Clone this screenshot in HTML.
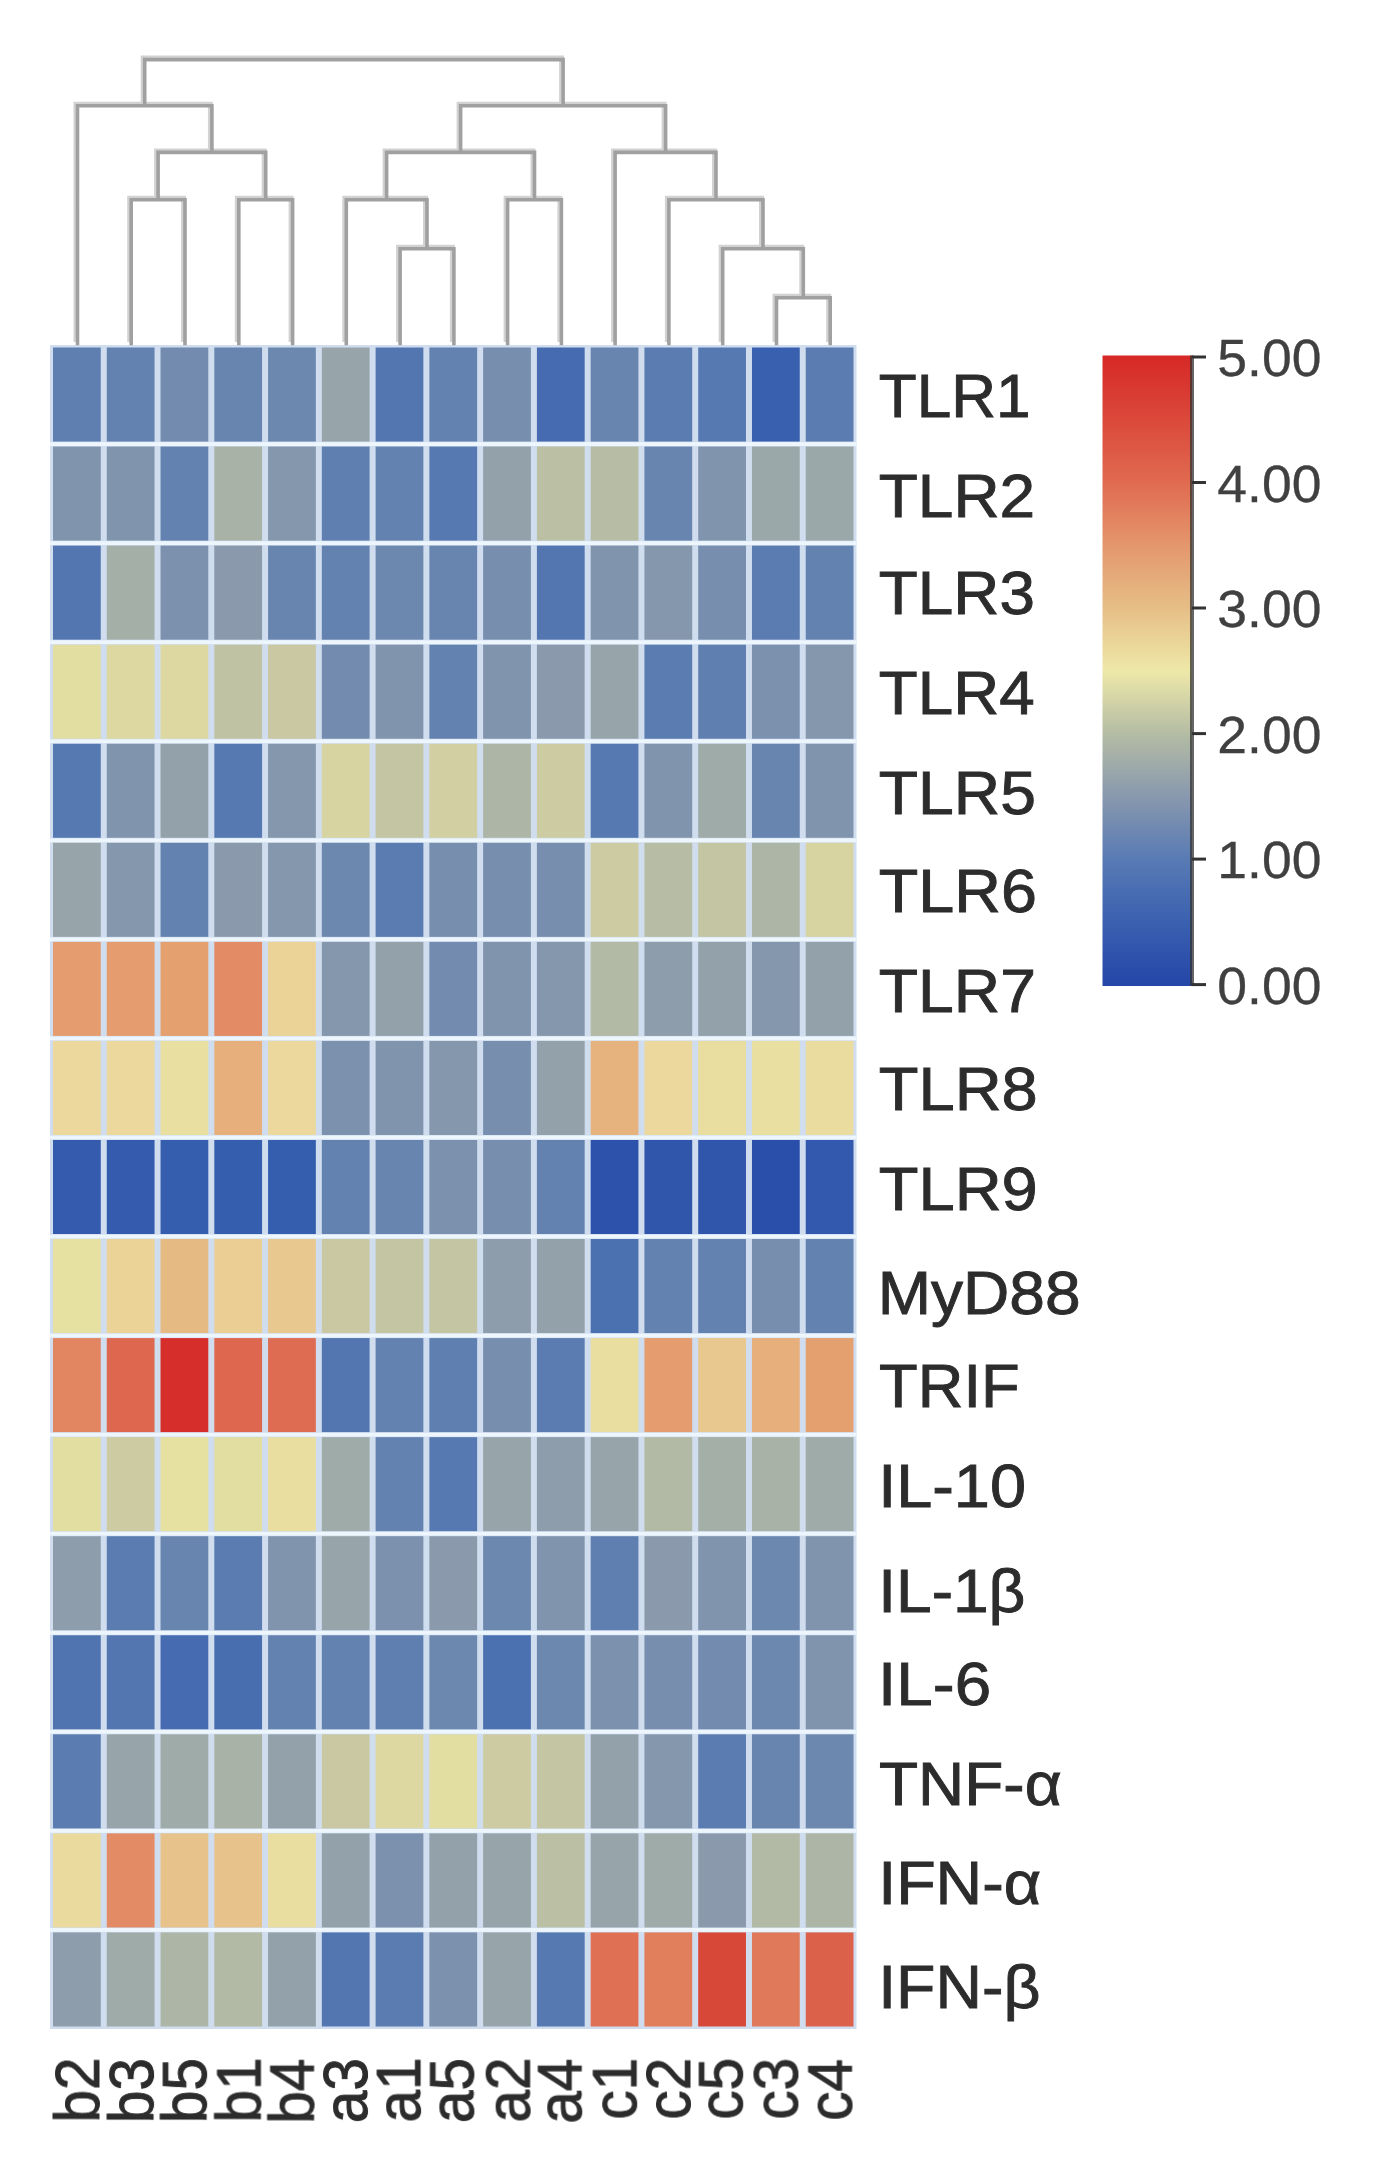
<!DOCTYPE html><html><head><meta charset="utf-8"><style>
html,body{margin:0;padding:0;background:#fff;}
body{width:1373px;height:2167px;position:relative;overflow:hidden;font-family:"Liberation Sans",sans-serif;}
svg{position:absolute;left:0;top:0;filter:blur(0.6px);}
.t{position:absolute;left:0;top:0;line-height:1;white-space:nowrap;transform-origin:0 0;color:#2c2c2c;-webkit-text-stroke:0.9px #2c2c2c;filter:blur(0.4px);}
</style></head><body>
<svg width="1373" height="2167" viewBox="0 0 1373 2167"><defs><linearGradient id="cb" x1="0" y1="0" x2="0" y2="1"><stop offset="0.0000" stop-color="#d62826"/><stop offset="0.1000" stop-color="#db483a"/><stop offset="0.2000" stop-color="#e06a50"/><stop offset="0.3000" stop-color="#e4966c"/><stop offset="0.4000" stop-color="#e6be86"/><stop offset="0.5000" stop-color="#eee8a8"/><stop offset="0.6000" stop-color="#b4bca4"/><stop offset="0.7000" stop-color="#8898ae"/><stop offset="0.8000" stop-color="#587ab4"/><stop offset="0.9000" stop-color="#3a60b0"/><stop offset="1.0000" stop-color="#2446a8"/></linearGradient></defs><rect x="50.0" y="345.0" width="806.5" height="1684.0" fill="#d0ddef"/><rect x="53.00" y="347.50" width="47.77" height="94.06" fill="#5f7fb0"/><rect x="106.77" y="347.50" width="47.77" height="94.06" fill="#6482b0"/><rect x="160.53" y="347.50" width="47.77" height="94.06" fill="#728bae"/><rect x="214.30" y="347.50" width="47.77" height="94.06" fill="#6885b0"/><rect x="268.07" y="347.50" width="47.77" height="94.06" fill="#6d88af"/><rect x="321.83" y="347.50" width="47.77" height="94.06" fill="#97a4aa"/><rect x="375.60" y="347.50" width="47.77" height="94.06" fill="#5376b1"/><rect x="429.37" y="347.50" width="47.77" height="94.06" fill="#6482b0"/><rect x="483.13" y="347.50" width="47.77" height="94.06" fill="#778eae"/><rect x="536.90" y="347.50" width="47.77" height="94.06" fill="#466bb0"/><rect x="590.67" y="347.50" width="47.77" height="94.06" fill="#6885b0"/><rect x="644.43" y="347.50" width="47.77" height="94.06" fill="#5a7cb1"/><rect x="698.20" y="347.50" width="47.77" height="94.06" fill="#5779b1"/><rect x="751.97" y="347.50" width="47.77" height="94.06" fill="#3860af"/><rect x="805.73" y="347.50" width="47.77" height="94.06" fill="#5a7cb1"/><rect x="53.00" y="446.56" width="47.77" height="94.06" fill="#8094ad"/><rect x="106.77" y="446.56" width="47.77" height="94.06" fill="#8094ad"/><rect x="160.53" y="446.56" width="47.77" height="94.06" fill="#6482b0"/><rect x="214.30" y="446.56" width="47.77" height="94.06" fill="#a9b2a6"/><rect x="268.07" y="446.56" width="47.77" height="94.06" fill="#8597ac"/><rect x="321.83" y="446.56" width="47.77" height="94.06" fill="#5f7fb0"/><rect x="375.60" y="446.56" width="47.77" height="94.06" fill="#6482b0"/><rect x="429.37" y="446.56" width="47.77" height="94.06" fill="#5779b1"/><rect x="483.13" y="446.56" width="47.77" height="94.06" fill="#92a1aa"/><rect x="536.90" y="446.56" width="47.77" height="94.06" fill="#bbc0a4"/><rect x="590.67" y="446.56" width="47.77" height="94.06" fill="#b7bda4"/><rect x="644.43" y="446.56" width="47.77" height="94.06" fill="#6885b0"/><rect x="698.20" y="446.56" width="47.77" height="94.06" fill="#8094ad"/><rect x="751.97" y="446.56" width="47.77" height="94.06" fill="#9ba8a9"/><rect x="805.73" y="446.56" width="47.77" height="94.06" fill="#9ba8a9"/><rect x="53.00" y="545.62" width="47.77" height="94.06" fill="#5376b1"/><rect x="106.77" y="545.62" width="47.77" height="94.06" fill="#a4afa7"/><rect x="160.53" y="545.62" width="47.77" height="94.06" fill="#7c91ae"/><rect x="214.30" y="545.62" width="47.77" height="94.06" fill="#8a9aac"/><rect x="268.07" y="545.62" width="47.77" height="94.06" fill="#6885b0"/><rect x="321.83" y="545.62" width="47.77" height="94.06" fill="#6482b0"/><rect x="375.60" y="545.62" width="47.77" height="94.06" fill="#6d88af"/><rect x="429.37" y="545.62" width="47.77" height="94.06" fill="#6885b0"/><rect x="483.13" y="545.62" width="47.77" height="94.06" fill="#778eae"/><rect x="536.90" y="545.62" width="47.77" height="94.06" fill="#5376b1"/><rect x="590.67" y="545.62" width="47.77" height="94.06" fill="#8094ad"/><rect x="644.43" y="545.62" width="47.77" height="94.06" fill="#8597ac"/><rect x="698.20" y="545.62" width="47.77" height="94.06" fill="#778eae"/><rect x="751.97" y="545.62" width="47.77" height="94.06" fill="#5a7cb1"/><rect x="805.73" y="545.62" width="47.77" height="94.06" fill="#6482b0"/><rect x="53.00" y="644.68" width="47.77" height="94.06" fill="#e2dda1"/><rect x="106.77" y="644.68" width="47.77" height="94.06" fill="#ddd8a1"/><rect x="160.53" y="644.68" width="47.77" height="94.06" fill="#ddd8a1"/><rect x="214.30" y="644.68" width="47.77" height="94.06" fill="#c0c3a3"/><rect x="268.07" y="644.68" width="47.77" height="94.06" fill="#c9c8a2"/><rect x="321.83" y="644.68" width="47.77" height="94.06" fill="#728bae"/><rect x="375.60" y="644.68" width="47.77" height="94.06" fill="#8094ad"/><rect x="429.37" y="644.68" width="47.77" height="94.06" fill="#6482b0"/><rect x="483.13" y="644.68" width="47.77" height="94.06" fill="#8094ad"/><rect x="536.90" y="644.68" width="47.77" height="94.06" fill="#8a9aac"/><rect x="590.67" y="644.68" width="47.77" height="94.06" fill="#97a4aa"/><rect x="644.43" y="644.68" width="47.77" height="94.06" fill="#5a7cb1"/><rect x="698.20" y="644.68" width="47.77" height="94.06" fill="#5f7fb0"/><rect x="751.97" y="644.68" width="47.77" height="94.06" fill="#7c91ae"/><rect x="805.73" y="644.68" width="47.77" height="94.06" fill="#8597ac"/><rect x="53.00" y="743.74" width="47.77" height="94.06" fill="#5779b1"/><rect x="106.77" y="743.74" width="47.77" height="94.06" fill="#8094ad"/><rect x="160.53" y="743.74" width="47.77" height="94.06" fill="#92a1aa"/><rect x="214.30" y="743.74" width="47.77" height="94.06" fill="#5779b1"/><rect x="268.07" y="743.74" width="47.77" height="94.06" fill="#8597ac"/><rect x="321.83" y="743.74" width="47.77" height="94.06" fill="#d7d4a2"/><rect x="375.60" y="743.74" width="47.77" height="94.06" fill="#c4c5a3"/><rect x="429.37" y="743.74" width="47.77" height="94.06" fill="#d2cfa2"/><rect x="483.13" y="743.74" width="47.77" height="94.06" fill="#adb6a6"/><rect x="536.90" y="743.74" width="47.77" height="94.06" fill="#cdcba2"/><rect x="590.67" y="743.74" width="47.77" height="94.06" fill="#5779b1"/><rect x="644.43" y="743.74" width="47.77" height="94.06" fill="#8094ad"/><rect x="698.20" y="743.74" width="47.77" height="94.06" fill="#9faba8"/><rect x="751.97" y="743.74" width="47.77" height="94.06" fill="#6885b0"/><rect x="805.73" y="743.74" width="47.77" height="94.06" fill="#8094ad"/><rect x="53.00" y="842.79" width="47.77" height="94.06" fill="#97a4aa"/><rect x="106.77" y="842.79" width="47.77" height="94.06" fill="#8597ac"/><rect x="160.53" y="842.79" width="47.77" height="94.06" fill="#6482b0"/><rect x="214.30" y="842.79" width="47.77" height="94.06" fill="#8a9aac"/><rect x="268.07" y="842.79" width="47.77" height="94.06" fill="#8597ac"/><rect x="321.83" y="842.79" width="47.77" height="94.06" fill="#6d88af"/><rect x="375.60" y="842.79" width="47.77" height="94.06" fill="#5a7cb1"/><rect x="429.37" y="842.79" width="47.77" height="94.06" fill="#778eae"/><rect x="483.13" y="842.79" width="47.77" height="94.06" fill="#778eae"/><rect x="536.90" y="842.79" width="47.77" height="94.06" fill="#778eae"/><rect x="590.67" y="842.79" width="47.77" height="94.06" fill="#cdcba2"/><rect x="644.43" y="842.79" width="47.77" height="94.06" fill="#b7bda4"/><rect x="698.20" y="842.79" width="47.77" height="94.06" fill="#c4c5a3"/><rect x="751.97" y="842.79" width="47.77" height="94.06" fill="#adb6a6"/><rect x="805.73" y="842.79" width="47.77" height="94.06" fill="#d7d4a2"/><rect x="53.00" y="941.85" width="47.77" height="94.06" fill="#e59c6e"/><rect x="106.77" y="941.85" width="47.77" height="94.06" fill="#e59c6e"/><rect x="160.53" y="941.85" width="47.77" height="94.06" fill="#e5a070"/><rect x="214.30" y="941.85" width="47.77" height="94.06" fill="#e38b64"/><rect x="268.07" y="941.85" width="47.77" height="94.06" fill="#ebd398"/><rect x="321.83" y="941.85" width="47.77" height="94.06" fill="#8597ac"/><rect x="375.60" y="941.85" width="47.77" height="94.06" fill="#92a1aa"/><rect x="429.37" y="941.85" width="47.77" height="94.06" fill="#728bae"/><rect x="483.13" y="941.85" width="47.77" height="94.06" fill="#8094ad"/><rect x="536.90" y="941.85" width="47.77" height="94.06" fill="#8597ac"/><rect x="590.67" y="941.85" width="47.77" height="94.06" fill="#b2b9a5"/><rect x="644.43" y="941.85" width="47.77" height="94.06" fill="#8e9dab"/><rect x="698.20" y="941.85" width="47.77" height="94.06" fill="#92a1aa"/><rect x="751.97" y="941.85" width="47.77" height="94.06" fill="#8597ac"/><rect x="805.73" y="941.85" width="47.77" height="94.06" fill="#92a1aa"/><rect x="53.00" y="1040.91" width="47.77" height="94.06" fill="#ecd89d"/><rect x="106.77" y="1040.91" width="47.77" height="94.06" fill="#ecd89d"/><rect x="160.53" y="1040.91" width="47.77" height="94.06" fill="#e8dfa0"/><rect x="214.30" y="1040.91" width="47.77" height="94.06" fill="#e6af7b"/><rect x="268.07" y="1040.91" width="47.77" height="94.06" fill="#ecd89d"/><rect x="321.83" y="1040.91" width="47.77" height="94.06" fill="#7c91ae"/><rect x="375.60" y="1040.91" width="47.77" height="94.06" fill="#8094ad"/><rect x="429.37" y="1040.91" width="47.77" height="94.06" fill="#8597ac"/><rect x="483.13" y="1040.91" width="47.77" height="94.06" fill="#778eae"/><rect x="536.90" y="1040.91" width="47.77" height="94.06" fill="#92a1aa"/><rect x="590.67" y="1040.91" width="47.77" height="94.06" fill="#e6b37e"/><rect x="644.43" y="1040.91" width="47.77" height="94.06" fill="#ecd89d"/><rect x="698.20" y="1040.91" width="47.77" height="94.06" fill="#e9dd9f"/><rect x="751.97" y="1040.91" width="47.77" height="94.06" fill="#e8dfa0"/><rect x="805.73" y="1040.91" width="47.77" height="94.06" fill="#eadc9f"/><rect x="53.00" y="1139.97" width="47.77" height="94.06" fill="#345bae"/><rect x="106.77" y="1139.97" width="47.77" height="94.06" fill="#345bae"/><rect x="160.53" y="1139.97" width="47.77" height="94.06" fill="#365eae"/><rect x="214.30" y="1139.97" width="47.77" height="94.06" fill="#365eae"/><rect x="268.07" y="1139.97" width="47.77" height="94.06" fill="#365eae"/><rect x="321.83" y="1139.97" width="47.77" height="94.06" fill="#6482b0"/><rect x="375.60" y="1139.97" width="47.77" height="94.06" fill="#6885b0"/><rect x="429.37" y="1139.97" width="47.77" height="94.06" fill="#7c91ae"/><rect x="483.13" y="1139.97" width="47.77" height="94.06" fill="#778eae"/><rect x="536.90" y="1139.97" width="47.77" height="94.06" fill="#6482b0"/><rect x="590.67" y="1139.97" width="47.77" height="94.06" fill="#2c52ab"/><rect x="644.43" y="1139.97" width="47.77" height="94.06" fill="#3056ac"/><rect x="698.20" y="1139.97" width="47.77" height="94.06" fill="#3056ac"/><rect x="751.97" y="1139.97" width="47.77" height="94.06" fill="#2a4faa"/><rect x="805.73" y="1139.97" width="47.77" height="94.06" fill="#3259ad"/><rect x="53.00" y="1239.03" width="47.77" height="94.06" fill="#e7e1a1"/><rect x="106.77" y="1239.03" width="47.77" height="94.06" fill="#ebd398"/><rect x="160.53" y="1239.03" width="47.77" height="94.06" fill="#e6ba83"/><rect x="214.30" y="1239.03" width="47.77" height="94.06" fill="#eace94"/><rect x="268.07" y="1239.03" width="47.77" height="94.06" fill="#e8c88f"/><rect x="321.83" y="1239.03" width="47.77" height="94.06" fill="#c9c8a2"/><rect x="375.60" y="1239.03" width="47.77" height="94.06" fill="#c4c5a3"/><rect x="429.37" y="1239.03" width="47.77" height="94.06" fill="#c4c5a3"/><rect x="483.13" y="1239.03" width="47.77" height="94.06" fill="#8e9dab"/><rect x="536.90" y="1239.03" width="47.77" height="94.06" fill="#92a1aa"/><rect x="590.67" y="1239.03" width="47.77" height="94.06" fill="#4c71b0"/><rect x="644.43" y="1239.03" width="47.77" height="94.06" fill="#6482b0"/><rect x="698.20" y="1239.03" width="47.77" height="94.06" fill="#6482b0"/><rect x="751.97" y="1239.03" width="47.77" height="94.06" fill="#778eae"/><rect x="805.73" y="1239.03" width="47.77" height="94.06" fill="#6482b0"/><rect x="53.00" y="1338.09" width="47.77" height="94.06" fill="#e28661"/><rect x="106.77" y="1338.09" width="47.77" height="94.06" fill="#dd684f"/><rect x="160.53" y="1338.09" width="47.77" height="94.06" fill="#d52e2b"/><rect x="214.30" y="1338.09" width="47.77" height="94.06" fill="#dd684f"/><rect x="268.07" y="1338.09" width="47.77" height="94.06" fill="#de6c52"/><rect x="321.83" y="1338.09" width="47.77" height="94.06" fill="#5376b1"/><rect x="375.60" y="1338.09" width="47.77" height="94.06" fill="#6482b0"/><rect x="429.37" y="1338.09" width="47.77" height="94.06" fill="#5f7fb0"/><rect x="483.13" y="1338.09" width="47.77" height="94.06" fill="#778eae"/><rect x="536.90" y="1338.09" width="47.77" height="94.06" fill="#5a7cb1"/><rect x="590.67" y="1338.09" width="47.77" height="94.06" fill="#e9dd9f"/><rect x="644.43" y="1338.09" width="47.77" height="94.06" fill="#e59c6e"/><rect x="698.20" y="1338.09" width="47.77" height="94.06" fill="#e8c88f"/><rect x="751.97" y="1338.09" width="47.77" height="94.06" fill="#e6af7b"/><rect x="805.73" y="1338.09" width="47.77" height="94.06" fill="#e5a070"/><rect x="53.00" y="1437.15" width="47.77" height="94.06" fill="#e2dda1"/><rect x="106.77" y="1437.15" width="47.77" height="94.06" fill="#cdcba2"/><rect x="160.53" y="1437.15" width="47.77" height="94.06" fill="#e7e1a1"/><rect x="214.30" y="1437.15" width="47.77" height="94.06" fill="#e2dda1"/><rect x="268.07" y="1437.15" width="47.77" height="94.06" fill="#e9dd9f"/><rect x="321.83" y="1437.15" width="47.77" height="94.06" fill="#9faba8"/><rect x="375.60" y="1437.15" width="47.77" height="94.06" fill="#6482b0"/><rect x="429.37" y="1437.15" width="47.77" height="94.06" fill="#5779b1"/><rect x="483.13" y="1437.15" width="47.77" height="94.06" fill="#97a4aa"/><rect x="536.90" y="1437.15" width="47.77" height="94.06" fill="#8e9dab"/><rect x="590.67" y="1437.15" width="47.77" height="94.06" fill="#97a4aa"/><rect x="644.43" y="1437.15" width="47.77" height="94.06" fill="#b2b9a5"/><rect x="698.20" y="1437.15" width="47.77" height="94.06" fill="#a4afa7"/><rect x="751.97" y="1437.15" width="47.77" height="94.06" fill="#a9b2a6"/><rect x="805.73" y="1437.15" width="47.77" height="94.06" fill="#9faba8"/><rect x="53.00" y="1536.21" width="47.77" height="94.06" fill="#8e9dab"/><rect x="106.77" y="1536.21" width="47.77" height="94.06" fill="#5a7cb1"/><rect x="160.53" y="1536.21" width="47.77" height="94.06" fill="#6885b0"/><rect x="214.30" y="1536.21" width="47.77" height="94.06" fill="#5a7cb1"/><rect x="268.07" y="1536.21" width="47.77" height="94.06" fill="#8094ad"/><rect x="321.83" y="1536.21" width="47.77" height="94.06" fill="#97a4aa"/><rect x="375.60" y="1536.21" width="47.77" height="94.06" fill="#7c91ae"/><rect x="429.37" y="1536.21" width="47.77" height="94.06" fill="#8a9aac"/><rect x="483.13" y="1536.21" width="47.77" height="94.06" fill="#6d88af"/><rect x="536.90" y="1536.21" width="47.77" height="94.06" fill="#8094ad"/><rect x="590.67" y="1536.21" width="47.77" height="94.06" fill="#5f7fb0"/><rect x="644.43" y="1536.21" width="47.77" height="94.06" fill="#8a9aac"/><rect x="698.20" y="1536.21" width="47.77" height="94.06" fill="#8094ad"/><rect x="751.97" y="1536.21" width="47.77" height="94.06" fill="#6d88af"/><rect x="805.73" y="1536.21" width="47.77" height="94.06" fill="#8094ad"/><rect x="53.00" y="1635.26" width="47.77" height="94.06" fill="#5074b0"/><rect x="106.77" y="1635.26" width="47.77" height="94.06" fill="#5376b1"/><rect x="160.53" y="1635.26" width="47.77" height="94.06" fill="#466bb0"/><rect x="214.30" y="1635.26" width="47.77" height="94.06" fill="#496eb0"/><rect x="268.07" y="1635.26" width="47.77" height="94.06" fill="#6482b0"/><rect x="321.83" y="1635.26" width="47.77" height="94.06" fill="#6482b0"/><rect x="375.60" y="1635.26" width="47.77" height="94.06" fill="#5f7fb0"/><rect x="429.37" y="1635.26" width="47.77" height="94.06" fill="#6d88af"/><rect x="483.13" y="1635.26" width="47.77" height="94.06" fill="#4c71b0"/><rect x="536.90" y="1635.26" width="47.77" height="94.06" fill="#6d88af"/><rect x="590.67" y="1635.26" width="47.77" height="94.06" fill="#7c91ae"/><rect x="644.43" y="1635.26" width="47.77" height="94.06" fill="#778eae"/><rect x="698.20" y="1635.26" width="47.77" height="94.06" fill="#728bae"/><rect x="751.97" y="1635.26" width="47.77" height="94.06" fill="#6d88af"/><rect x="805.73" y="1635.26" width="47.77" height="94.06" fill="#8094ad"/><rect x="53.00" y="1734.32" width="47.77" height="94.06" fill="#5a7cb1"/><rect x="106.77" y="1734.32" width="47.77" height="94.06" fill="#97a4aa"/><rect x="160.53" y="1734.32" width="47.77" height="94.06" fill="#9faba8"/><rect x="214.30" y="1734.32" width="47.77" height="94.06" fill="#a9b2a6"/><rect x="268.07" y="1734.32" width="47.77" height="94.06" fill="#92a1aa"/><rect x="321.83" y="1734.32" width="47.77" height="94.06" fill="#c9c8a2"/><rect x="375.60" y="1734.32" width="47.77" height="94.06" fill="#ddd8a1"/><rect x="429.37" y="1734.32" width="47.77" height="94.06" fill="#e2dda1"/><rect x="483.13" y="1734.32" width="47.77" height="94.06" fill="#cdcba2"/><rect x="536.90" y="1734.32" width="47.77" height="94.06" fill="#c4c5a3"/><rect x="590.67" y="1734.32" width="47.77" height="94.06" fill="#92a1aa"/><rect x="644.43" y="1734.32" width="47.77" height="94.06" fill="#8597ac"/><rect x="698.20" y="1734.32" width="47.77" height="94.06" fill="#5a7cb1"/><rect x="751.97" y="1734.32" width="47.77" height="94.06" fill="#6885b0"/><rect x="805.73" y="1734.32" width="47.77" height="94.06" fill="#6d88af"/><rect x="53.00" y="1833.38" width="47.77" height="94.06" fill="#ebda9e"/><rect x="106.77" y="1833.38" width="47.77" height="94.06" fill="#e38b64"/><rect x="160.53" y="1833.38" width="47.77" height="94.06" fill="#e7c38b"/><rect x="214.30" y="1833.38" width="47.77" height="94.06" fill="#e7c38b"/><rect x="268.07" y="1833.38" width="47.77" height="94.06" fill="#e9dd9f"/><rect x="321.83" y="1833.38" width="47.77" height="94.06" fill="#92a1aa"/><rect x="375.60" y="1833.38" width="47.77" height="94.06" fill="#7c91ae"/><rect x="429.37" y="1833.38" width="47.77" height="94.06" fill="#92a1aa"/><rect x="483.13" y="1833.38" width="47.77" height="94.06" fill="#97a4aa"/><rect x="536.90" y="1833.38" width="47.77" height="94.06" fill="#bbc0a4"/><rect x="590.67" y="1833.38" width="47.77" height="94.06" fill="#97a4aa"/><rect x="644.43" y="1833.38" width="47.77" height="94.06" fill="#9faba8"/><rect x="698.20" y="1833.38" width="47.77" height="94.06" fill="#8a9aac"/><rect x="751.97" y="1833.38" width="47.77" height="94.06" fill="#b2b9a5"/><rect x="805.73" y="1833.38" width="47.77" height="94.06" fill="#adb6a6"/><rect x="53.00" y="1932.44" width="47.77" height="94.06" fill="#8e9dab"/><rect x="106.77" y="1932.44" width="47.77" height="94.06" fill="#9faba8"/><rect x="160.53" y="1932.44" width="47.77" height="94.06" fill="#adb6a6"/><rect x="214.30" y="1932.44" width="47.77" height="94.06" fill="#b2b9a5"/><rect x="268.07" y="1932.44" width="47.77" height="94.06" fill="#92a1aa"/><rect x="321.83" y="1932.44" width="47.77" height="94.06" fill="#5376b1"/><rect x="375.60" y="1932.44" width="47.77" height="94.06" fill="#5a7cb1"/><rect x="429.37" y="1932.44" width="47.77" height="94.06" fill="#7c91ae"/><rect x="483.13" y="1932.44" width="47.77" height="94.06" fill="#97a4aa"/><rect x="536.90" y="1932.44" width="47.77" height="94.06" fill="#5779b1"/><rect x="590.67" y="1932.44" width="47.77" height="94.06" fill="#df7054"/><rect x="644.43" y="1932.44" width="47.77" height="94.06" fill="#e17e5c"/><rect x="698.20" y="1932.44" width="47.77" height="94.06" fill="#d84838"/><rect x="751.97" y="1932.44" width="47.77" height="94.06" fill="#e0795a"/><rect x="805.73" y="1932.44" width="47.77" height="94.06" fill="#dc614a"/><rect x="50.0" y="442.16" width="806.5" height="3.8" fill="#eef6fd"/><rect x="50.0" y="541.22" width="806.5" height="3.8" fill="#eef6fd"/><rect x="50.0" y="640.28" width="806.5" height="3.8" fill="#eef6fd"/><rect x="50.0" y="739.34" width="806.5" height="3.8" fill="#eef6fd"/><rect x="50.0" y="838.39" width="806.5" height="3.8" fill="#eef6fd"/><rect x="50.0" y="937.45" width="806.5" height="3.8" fill="#eef6fd"/><rect x="50.0" y="1036.51" width="806.5" height="3.8" fill="#eef6fd"/><rect x="50.0" y="1135.57" width="806.5" height="3.8" fill="#eef6fd"/><rect x="50.0" y="1234.63" width="806.5" height="3.8" fill="#eef6fd"/><rect x="50.0" y="1333.69" width="806.5" height="3.8" fill="#eef6fd"/><rect x="50.0" y="1432.75" width="806.5" height="3.8" fill="#eef6fd"/><rect x="50.0" y="1531.81" width="806.5" height="3.8" fill="#eef6fd"/><rect x="50.0" y="1630.86" width="806.5" height="3.8" fill="#eef6fd"/><rect x="50.0" y="1729.92" width="806.5" height="3.8" fill="#eef6fd"/><rect x="50.0" y="1828.98" width="806.5" height="3.8" fill="#eef6fd"/><rect x="50.0" y="1928.04" width="806.5" height="3.8" fill="#eef6fd"/><path d="M131.2,343.5V199.8H185.0V343.5 M238.8,343.5V199.8H292.6V343.5 M158.1,199.8V152.4H265.7V199.8 M77.5,343.5V105.8H211.9V152.4 M400.1,343.5V248.7H453.9V343.5 M346.3,343.5V199.8H427.0V248.7 M507.6,343.5V199.8H561.4V343.5 M386.6,199.8V152.4H534.5V199.8 M776.5,343.5V297.7H830.2V343.5 M722.7,343.5V248.7H803.3V297.7 M668.9,343.5V199.8H763.0V248.7 M615.1,343.5V152.4H716.0V199.8 M460.6,152.4V105.8H665.6V152.4 M144.7,105.8V59.6H563.1V105.8" transform="translate(-1.5,-1.5)" fill="none" stroke="#d2d2d2" stroke-width="5" stroke-linejoin="miter" stroke-linecap="butt"/><path d="M131.2,343.5V199.8H185.0V343.5 M238.8,343.5V199.8H292.6V343.5 M158.1,199.8V152.4H265.7V199.8 M77.5,343.5V105.8H211.9V152.4 M400.1,343.5V248.7H453.9V343.5 M346.3,343.5V199.8H427.0V248.7 M507.6,343.5V199.8H561.4V343.5 M386.6,199.8V152.4H534.5V199.8 M776.5,343.5V297.7H830.2V343.5 M722.7,343.5V248.7H803.3V297.7 M668.9,343.5V199.8H763.0V248.7 M615.1,343.5V152.4H716.0V199.8 M460.6,152.4V105.8H665.6V152.4 M144.7,105.8V59.6H563.1V105.8" fill="none" stroke="#a0a0a0" stroke-width="3.6" stroke-linejoin="miter" stroke-linecap="square"/><rect x="1102.5" y="355.5" width="89.5" height="630.5" fill="url(#cb)"/><line x1="1192.0" y1="355.5" x2="1192.0" y2="986.0" stroke="#333" stroke-opacity="0.75" stroke-width="4"/><line x1="1192.0" y1="357.0" x2="1206" y2="357.0" stroke="#333" stroke-width="3"/><line x1="1192.0" y1="482.5" x2="1206" y2="482.5" stroke="#333" stroke-width="3"/><line x1="1192.0" y1="608.0" x2="1206" y2="608.0" stroke="#333" stroke-width="3"/><line x1="1192.0" y1="733.6" x2="1206" y2="733.6" stroke="#333" stroke-width="3"/><line x1="1192.0" y1="859.1" x2="1206" y2="859.1" stroke="#333" stroke-width="3"/><line x1="1192.0" y1="984.6" x2="1206" y2="984.6" stroke="#333" stroke-width="3"/></svg>
<div class="t" style="font-size:62.0px;transform:translate(878.86px,364.68px) scaleX(1.0009)">TLR1</div>
<div class="t" style="font-size:62.0px;transform:translate(878.82px,465.18px) scaleX(1.0308)">TLR2</div>
<div class="t" style="font-size:62.0px;transform:translate(878.82px,562.28px) scaleX(1.0294)">TLR3</div>
<div class="t" style="font-size:62.0px;transform:translate(878.83px,662.38px) scaleX(1.0276)">TLR4</div>
<div class="t" style="font-size:62.0px;transform:translate(878.82px,761.88px) scaleX(1.0362)">TLR5</div>
<div class="t" style="font-size:62.0px;transform:translate(878.81px,859.88px) scaleX(1.0430)">TLR6</div>
<div class="t" style="font-size:62.0px;transform:translate(878.82px,959.68px) scaleX(1.0362)">TLR7</div>
<div class="t" style="font-size:62.0px;transform:translate(878.80px,1058.48px) scaleX(1.0484)">TLR8</div>
<div class="t" style="font-size:62.0px;transform:translate(878.80px,1158.08px) scaleX(1.0484)">TLR9</div>
<div class="t" style="font-size:62.0px;transform:translate(877.68px,1262.48px) scaleX(1.0330)">MyD88</div>
<div class="t" style="font-size:62.0px;transform:translate(879.03px,1354.58px) scaleX(1.0208)">TRIF</div>
<div class="t" style="font-size:62.0px;transform:translate(878.16px,1455.18px) scaleX(1.0458)">IL-10</div>
<div class="t" style="font-size:62.0px;transform:translate(878.24px,1560.38px) scaleX(1.0331)">IL-1β</div>
<div class="t" style="font-size:62.0px;transform:translate(878.10px,1653.18px) scaleX(1.0580)">IL-6</div>
<div class="t" style="font-size:62.0px;transform:translate(879.02px,1752.88px) scaleX(1.0317)">TNF-α</div>
<div class="t" style="font-size:62.0px;transform:translate(878.19px,1851.68px) scaleX(1.0417)">IFN-α</div>
<div class="t" style="font-size:62.0px;transform:translate(878.20px,1955.88px) scaleX(1.0393)">IFN-β</div>
<div class="t" style="font-size:58.5px;transform:translate(46.99px,2122.51px) scaleX(1.07) rotate(-90deg)">b2</div>
<div class="t" style="font-size:58.5px;transform:translate(101.08px,2123.09px) scaleX(1.07) rotate(-90deg)">b3</div>
<div class="t" style="font-size:58.5px;transform:translate(154.18px,2123.09px) scaleX(1.07) rotate(-90deg)">b5</div>
<div class="t" style="font-size:58.5px;transform:translate(208.44px,2122.51px) scaleX(1.07) rotate(-90deg)">b1</div>
<div class="t" style="font-size:58.5px;transform:translate(261.59px,2123.68px) scaleX(1.07) rotate(-90deg)">b4</div>
<div class="t" style="font-size:58.5px;transform:translate(315.04px,2123.09px) scaleX(1.07) rotate(-90deg)">a3</div>
<div class="t" style="font-size:58.5px;transform:translate(368.13px,2122.51px) scaleX(1.07) rotate(-90deg)">a1</div>
<div class="t" style="font-size:58.5px;transform:translate(421.38px,2123.09px) scaleX(1.07) rotate(-90deg)">a5</div>
<div class="t" style="font-size:58.5px;transform:translate(477.64px,2122.51px) scaleX(1.07) rotate(-90deg)">a2</div>
<div class="t" style="font-size:58.5px;transform:translate(529.28px,2123.68px) scaleX(1.07) rotate(-90deg)">a4</div>
<div class="t" style="font-size:58.5px;transform:translate(584.23px,2119.59px) scaleX(1.07) rotate(-90deg)">c1</div>
<div class="t" style="font-size:58.5px;transform:translate(637.99px,2119.59px) scaleX(1.07) rotate(-90deg)">c2</div>
<div class="t" style="font-size:58.5px;transform:translate(690.23px,2119.59px) scaleX(1.07) rotate(-90deg)">c5</div>
<div class="t" style="font-size:58.5px;transform:translate(745.44px,2119.59px) scaleX(1.07) rotate(-90deg)">c3</div>
<div class="t" style="font-size:58.5px;transform:translate(799.58px,2120.76px) scaleX(1.07) rotate(-90deg)">c4</div>
<div class="t" style="font-size:52.5px;color:#404040;-webkit-text-stroke:0.3px #404040;transform:translate(1217.30px,331.99px) scaleX(1.02)">5.00</div>
<div class="t" style="font-size:52.5px;color:#404040;-webkit-text-stroke:0.3px #404040;transform:translate(1217.30px,457.51px) scaleX(1.02)">4.00</div>
<div class="t" style="font-size:52.5px;color:#404040;-webkit-text-stroke:0.3px #404040;transform:translate(1217.30px,583.03px) scaleX(1.02)">3.00</div>
<div class="t" style="font-size:52.5px;color:#404040;-webkit-text-stroke:0.3px #404040;transform:translate(1217.30px,708.55px) scaleX(1.02)">2.00</div>
<div class="t" style="font-size:52.5px;color:#404040;-webkit-text-stroke:0.3px #404040;transform:translate(1217.30px,834.07px) scaleX(1.02)">1.00</div>
<div class="t" style="font-size:52.5px;color:#404040;-webkit-text-stroke:0.3px #404040;transform:translate(1217.30px,959.59px) scaleX(1.02)">0.00</div>
</body></html>
